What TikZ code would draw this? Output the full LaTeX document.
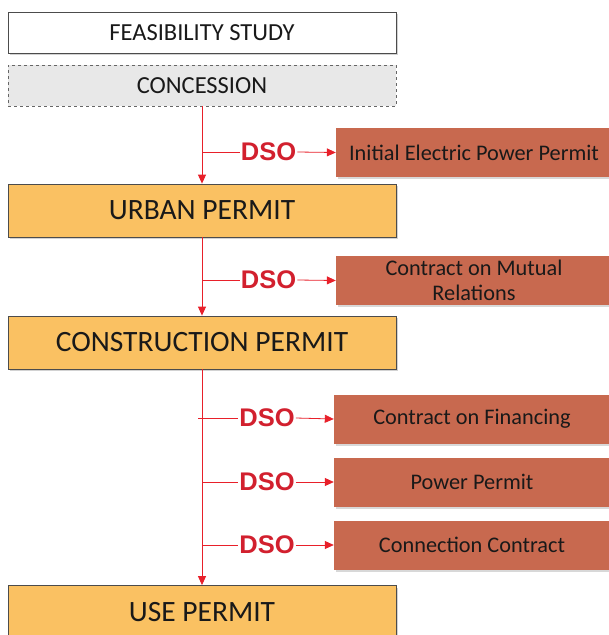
\documentclass[tikz,border=0pt]{standalone}
\usepackage{fontspec}
\setmainfont{Carlito}
\newfontfamily\dsofont{Liberation Sans}
\usetikzlibrary{arrows.meta,shadows}
\definecolor{orangefill}{HTML}{FAC162}
\definecolor{brick}{HTML}{C8694F}
\definecolor{dsored}{HTML}{D2202E}
\definecolor{linered}{HTML}{E8202A}
\definecolor{concfill}{HTML}{E8E8E8}
\tikzset{
  mainbox/.style={draw=black!70, line width=0.8pt, minimum width=388pt, inner sep=0pt,
    text=black!90, drop shadow={opacity=0.35, shadow xshift=1.5pt, shadow yshift=-2pt}},
  whitebox/.style={mainbox, fill=white, minimum height=41pt, font=\fontsize{24.5}{28}\selectfont},
  concbox/.style={draw=black!60, dashed, line width=0.6pt, fill=concfill, minimum width=388pt,
    minimum height=41pt, inner sep=0pt, text=black!90, font=\fontsize{24.5}{28}\selectfont},
  permit/.style={mainbox, fill=orangefill, minimum height=53pt, font=\fontsize{29.5}{32}\selectfont},
  dsobox/.style={fill=brick, minimum width=276pt, minimum height=49pt, inner sep=0pt,
    text=black!90, align=center, font=\fontsize{22.3}{25}\selectfont,
    drop shadow={opacity=0.3, shadow xshift=1.5pt, shadow yshift=-2pt}},
  dso/.style={text=dsored, inner sep=1pt, font=\dsofont\bfseries\fontsize{25.5}{26}\selectfont},
  flow/.style={draw=linered, line width=0.8pt, -{Triangle[length=9pt,width=8pt]}},
  branch/.style={draw=linered, line width=0.8pt},
}
\begin{document}
\begin{tikzpicture}[x=1pt,y=-1pt]
\clip (0,0) rectangle (609,635);
\fill[white] (0,0) rectangle (609,635);
\node[whitebox] (feas) at (202,32.5) {FEASIBILITY STUDY};
\node[concbox] (conc) at (202,85.5) {CONCESSION};
\node[permit] (urban) at (202,210.5) {URBAN PERMIT};
\node[permit] (constr) at (202,342.5) {CONSTRUCTION PERMIT};
\node[permit] (use) at (202,612) {USE PERMIT};

\node[dsobox] (iepp) at (474,152.5) {Initial Electric Power Permit};
\node[dsobox] (mutual) at (474,280.5) {Contract on Mutual\\Relations};
\node[dsobox] (fin) at (472,419) {Contract on Financing};
\node[dsobox] (power) at (472,482) {Power Permit};
\node[dsobox] (conn) at (472,545) {Connection Contract};

\node[dso] (d1) at (268.5,152) {DSO};
\node[dso] (d2) at (268.5,280) {DSO};
\node[dso] (d3) at (267,418) {DSO};
\node[dso] (d4) at (267,482) {DSO};
\node[dso] (d5) at (267,545) {DSO};

\coordinate (b1) at (202,152);
\coordinate (b2) at (202,280);
\coordinate (b3) at (198,418);
\coordinate (b4) at (202,482);
\coordinate (b5) at (202,545);

\draw[flow] (conc.south) -- (urban.north);
\draw[flow] (urban.south) -- (constr.north);
\draw[flow] (constr.south) -- (use.north);

\draw[branch] (b1) -- (d1.west);
\draw[branch] (b2) -- (d2.west);
\draw[branch] (b3) -- (d3.west);
\draw[branch] (b4) -- (d4.west);
\draw[branch] (b5) -- (d5.west);

\draw[flow] (d1.east) -- (iepp.west);
\draw[flow] (d2.east) -- (mutual.west);
\draw[flow] (d3.east) -- (fin.west);
\draw[flow] (d4.east) -- (power.west);
\draw[flow] (d5.east) -- (conn.west);
\end{tikzpicture}
\end{document}
